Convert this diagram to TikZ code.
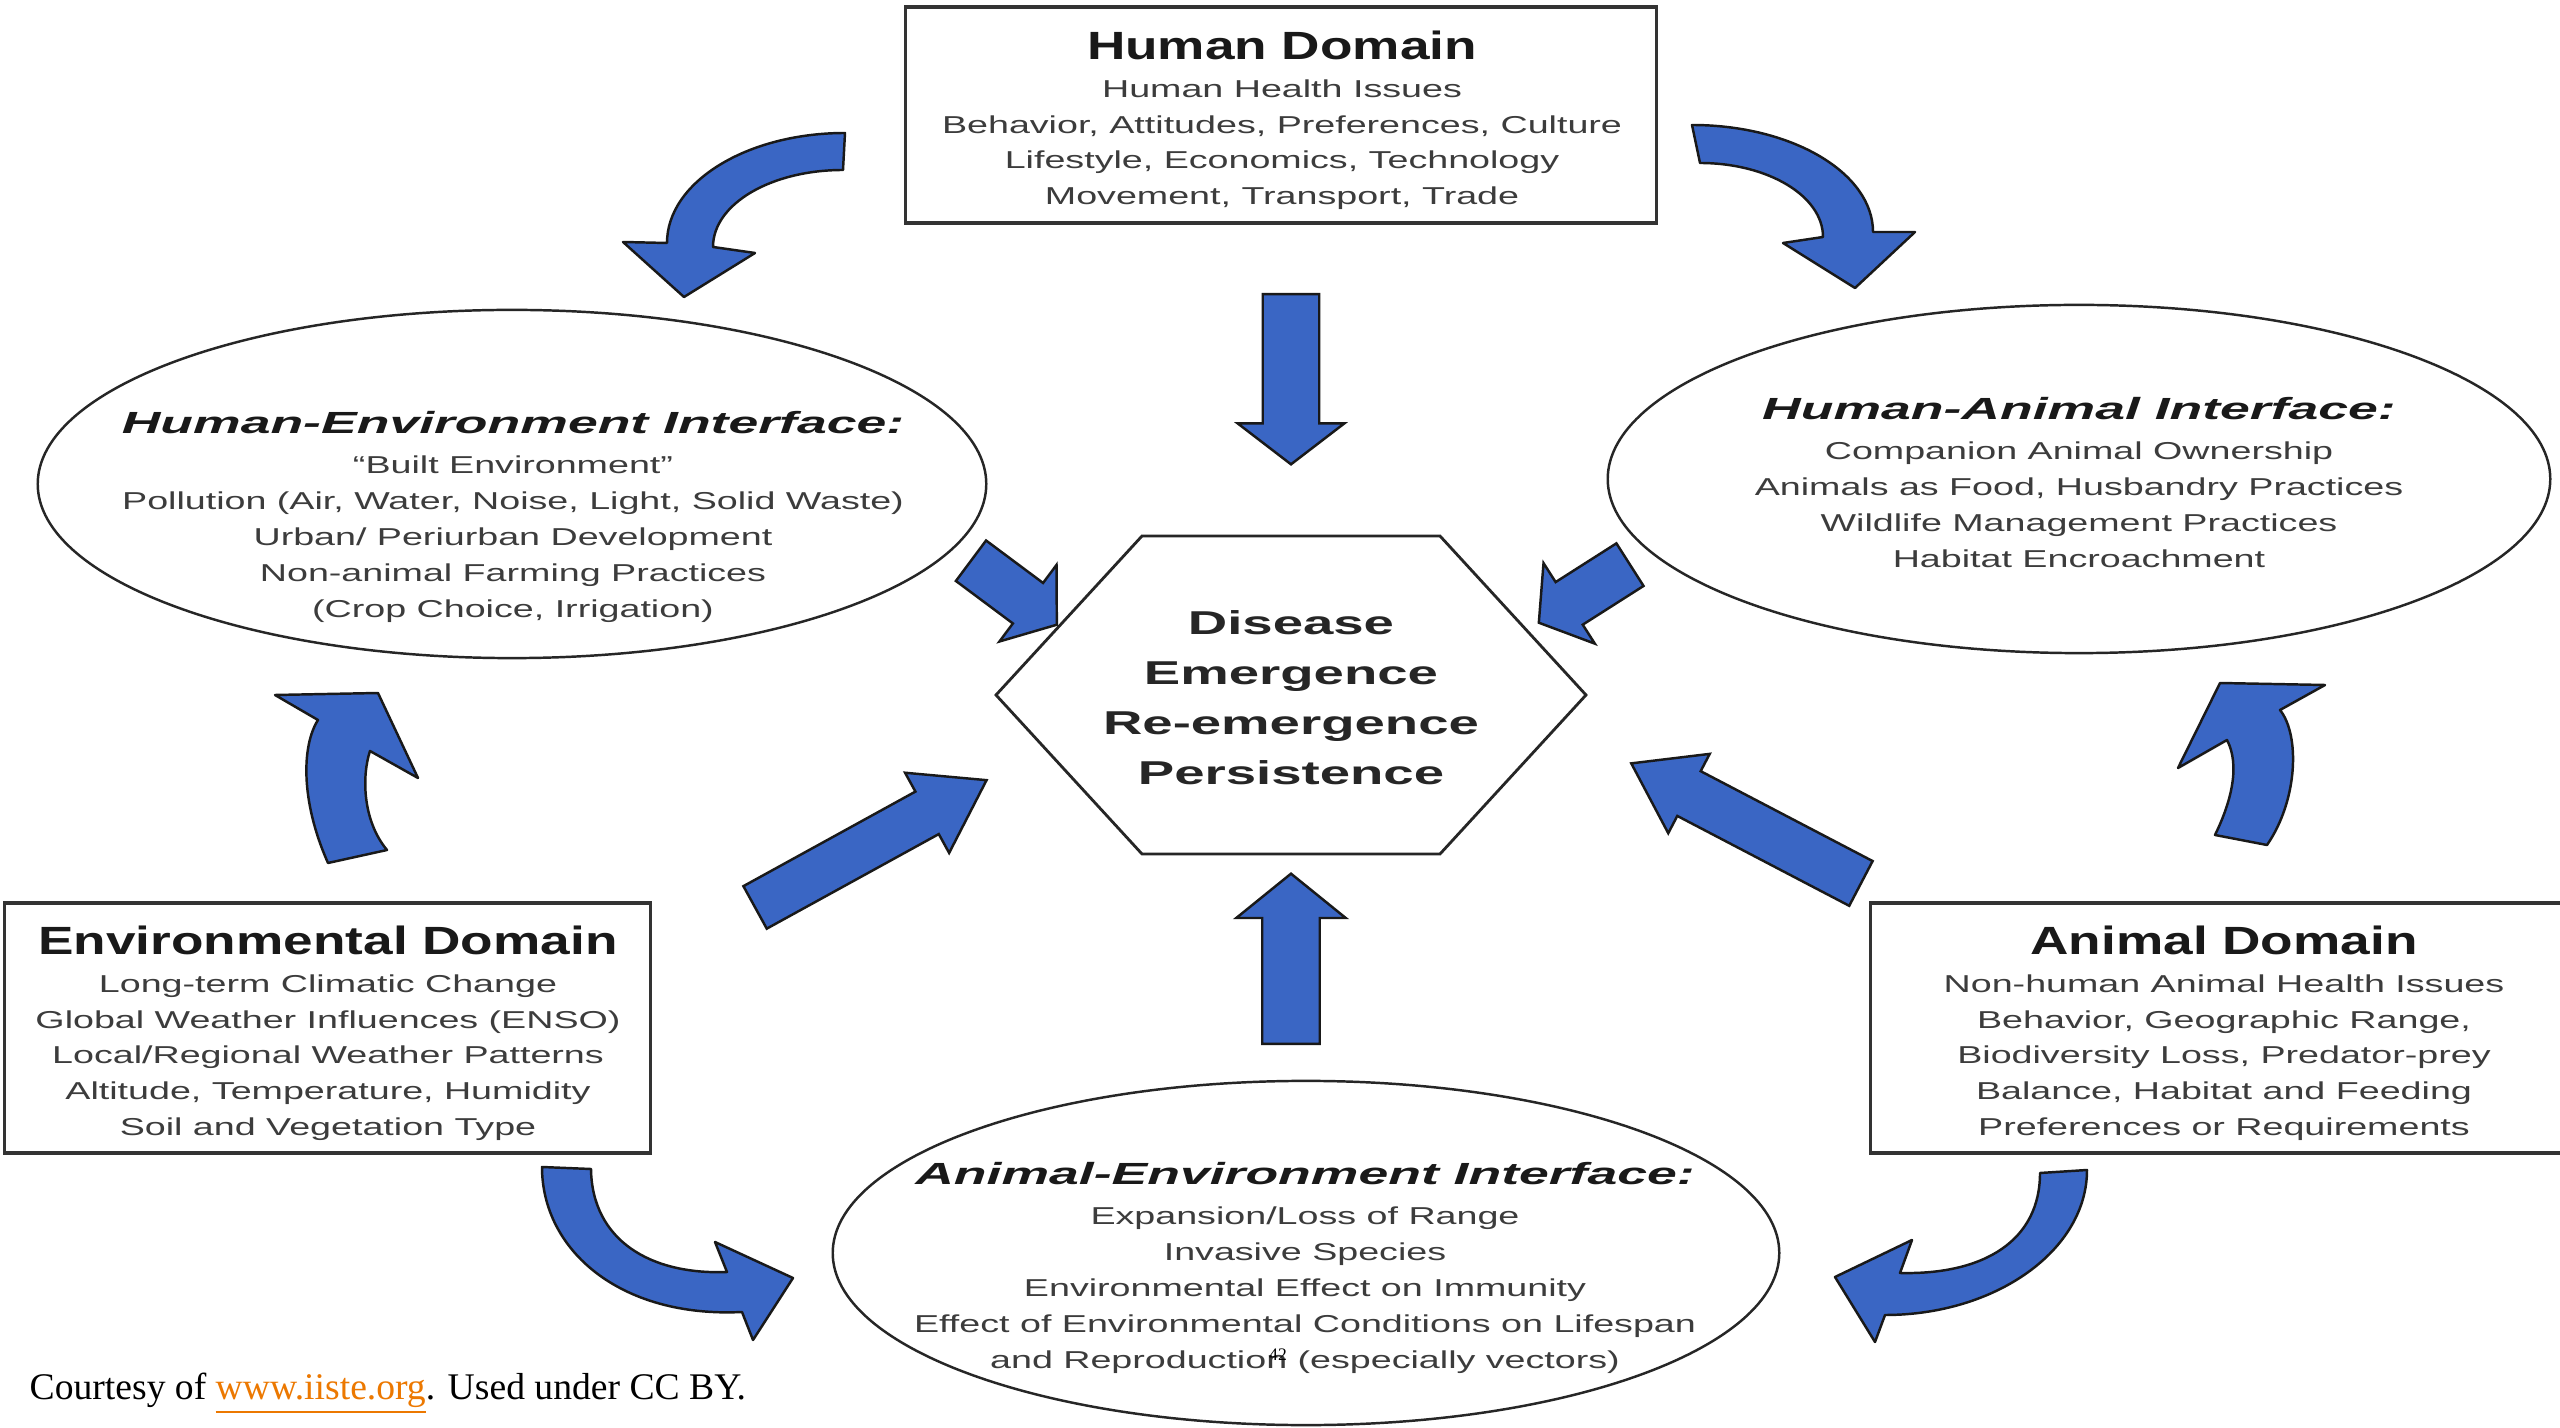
\documentclass[tikz,border=0pt]{standalone}
\usepackage{fontspec}
\usepackage{xcolor}
\usetikzlibrary{shapes.geometric,shapes.arrows}

\newfontfamily\bodyfam{Liberation Sans}[FakeStretch=1.54]
\newfontfamily\domfam{Liberation Sans}[FakeStretch=1.35]
\newfontfamily\facefam{Liberation Sans}[FakeStretch=1.75]
\newfontfamily\hexfam{Liberation Sans}[FakeStretch=1.65]
\newfontfamily\notefam{Liberation Serif}

\definecolor{arrowblue}{RGB}{58,102,196}
\definecolor{inkgray}{RGB}{60,60,60}
\definecolor{linkorange}{RGB}{236,120,0}

\newcommand{\domtitle}[1]{{\domfam\bfseries\fontsize{11.2}{13}\selectfont\color{black!90}#1}}
\newcommand{\facetitle}[1]{{\facefam\bfseries\itshape\fontsize{8.7}{11}\selectfont\color{black!90}#1}}

\tikzset{
  domainbox/.style={draw=black!80, line width=0.9pt, inner sep=0pt},
  interface/.style={ellipse, draw=black!85, line width=0.7pt, inner sep=0pt},
  bodytext/.style={align=center, inner sep=0pt, anchor=north, text=inkgray,
    font=\bodyfam\fontsize{6.95}{10.2}\selectfont},
  blockarrow/.style={single arrow, draw=black!90, fill=arrowblue, line width=0.7pt,
    inner xsep=0pt, anchor=tail},
  bendarrow/.style={draw=black!90, fill=arrowblue, line width=0.7pt, line join=round}
}

\begin{document}
\begin{tikzpicture}[x=0.01cm, y=-0.01cm]
  \useasboundingbox (0,0) rectangle (2560,1428);
  \clip (0,0) rectangle (2560,1428);
  \fill[white] (0,0) rectangle (2560,1428);

  \node[domainbox, minimum width=7.5cm, minimum height=2.16cm] (human) at (1281,115) {};
  \node[domainbox, minimum width=6.45cm, minimum height=2.5cm] (environment) at (327.5,1028) {};
  \node[domainbox, minimum width=7.0cm, minimum height=2.5cm] (animal) at (2221,1028) {};
  \node[interface, minimum width=9.48cm, minimum height=3.48cm] (humenv) at (512,484) {};
  \node[interface, minimum width=9.42cm, minimum height=3.48cm] (humani) at (2079,479) {};
  \node[interface, minimum width=9.46cm, minimum height=3.44cm] (animenv) at (1306,1253) {};
  \draw[black!85, line width=0.8pt] (996,695) -- (1142,536) -- (1440,536) -- (1586,695)
    -- (1440,854) -- (1142,854) -- cycle;

  \node[bodytext] (humantext) at (1282,30) {\domtitle{Human Domain}\\[0.6pt]
    Human Health Issues\\ Behavior, Attitudes, Preferences, Culture\\
    Lifestyle, Economics, Technology\\ Movement, Transport, Trade};
  \node[bodytext] (envtext) at (328,925) {\domtitle{Environmental Domain}\\[0.6pt]
    Long-term Climatic Change\\ Global Weather Influences (ENSO)\\
    Local/Regional Weather Patterns\\ Altitude, Temperature, Humidity\\
    Soil and Vegetation Type};
  \node[bodytext] (animaltext) at (2224,925) {\domtitle{Animal Domain}\\[0.6pt]
    Non-human Animal Health Issues\\ Behavior, Geographic Range,\\
    Biodiversity Loss, Predator-prey\\ Balance, Habitat and Feeding\\
    Preferences or Requirements};
  \node[bodytext] (humenvtext) at (513,411) {\facetitle{Human-Environment Interface:}\\[1.2pt]
    “Built Environment”\\ Pollution (Air, Water, Noise, Light, Solid Waste)\\
    Urban/ Periurban Development\\ Non-animal Farming Practices\\
    (Crop Choice, Irrigation)};
  \node[bodytext] (humanitext) at (2079,397) {\facetitle{Human-Animal Interface:}\\[1.2pt]
    Companion Animal Ownership\\ Animals as Food, Husbandry Practices\\
    Wildlife Management Practices\\ Habitat Encroachment};
  \node[bodytext] (animenvtext) at (1305,1162) {\facetitle{Animal-Environment Interface:}\\[1.2pt]
    Expansion/Loss of Range\\ Invasive Species\\ Environmental Effect on Immunity\\
    Effect of Environmental Conditions on Lifespan\\ and Reproduction (especially vectors)};
  \node[bodytext, text=black!85, font=\hexfam\bfseries\fontsize{9.4}{14.2}\selectfont] (disease)
    at (1291,610) {Disease\\ Emergence\\ Re-emergence\\ Persistence};

  \foreach \name/\x/\y/\ang/\len/\half/\ext/\tip in {
      tohexN/1291/293/-90/1.70cm/0.27cm/0.25cm/105,
      tohexS/1291/1045/90/1.70cm/0.275cm/0.26cm/102,
      tohexNW/970/560/-36.7/1.07cm/0.24cm/0.225cm/106,
      tohexNE/1631/564/-147.5/1.08cm/0.24cm/0.225cm/106,
      tohexSW/754/908/28.8/2.64cm/0.23cm/0.215cm/68,
      tohexSE/1862/884/152.4/2.59cm/0.24cm/0.195cm/69}
    \node[blockarrow, rotate=\ang, minimum height=\len, inner ysep=\half,
      single arrow head extend=\ext, single arrow tip angle=\tip] (\name) at (\x,\y) {};

  \filldraw[bendarrow] (845,133) .. controls (747,133) and (667,182) .. (667,243) -- (623,242)
    -- (684,297) -- (755,253) -- (713,247) .. controls (713,204) and (771,170) .. (843,170) -- cycle;
  \filldraw[bendarrow] (1692,125) .. controls (1792,125) and (1873,173) .. (1873,232) -- (1915,232)
    -- (1855,288) -- (1783,243) -- (1823,237) .. controls (1823,196) and (1768,163) .. (1700,163) -- cycle;
  \filldraw[bendarrow] (328,863) .. controls (300,800) and (302,745) .. (318,720) -- (275,695)
    -- (378,693) -- (418,778) -- (370,751) .. controls (362,775) and (362,820) .. (387,850) -- cycle;
  \filldraw[bendarrow] (2215,835) .. controls (2232,800) and (2240,765) .. (2227,740) -- (2178,768)
    -- (2220,683) -- (2325,685) -- (2280,710) .. controls (2300,735) and (2298,800) .. (2267,845) -- cycle;
  \filldraw[bendarrow] (542,1167) .. controls (542,1250) and (620,1318) .. (742,1312) -- (753,1340)
    -- (793,1278) -- (715,1242) -- (727,1272) .. controls (650,1275) and (592,1240) .. (591,1169) -- cycle;
  \filldraw[bendarrow] (2087,1170) .. controls (2087,1250) and (1996,1315) .. (1885,1315) -- (1875,1342)
    -- (1835,1277) -- (1912,1240) -- (1900,1273) .. controls (1985,1275) and (2040,1240) .. (2040,1173) -- cycle;

  \node[anchor=base west, inner sep=0pt, font=\notefam\fontsize{10.7}{13}\selectfont] (credit)
    at (29,1399) {Courtesy of {\color{linkorange}\underline{www.iiste.org}}. Used under CC BY.};
  \node[inner sep=0pt, font=\notefam\fontsize{5}{6}\selectfont] (pageno) at (1278,1355) {42};
\end{tikzpicture}
\end{document}
